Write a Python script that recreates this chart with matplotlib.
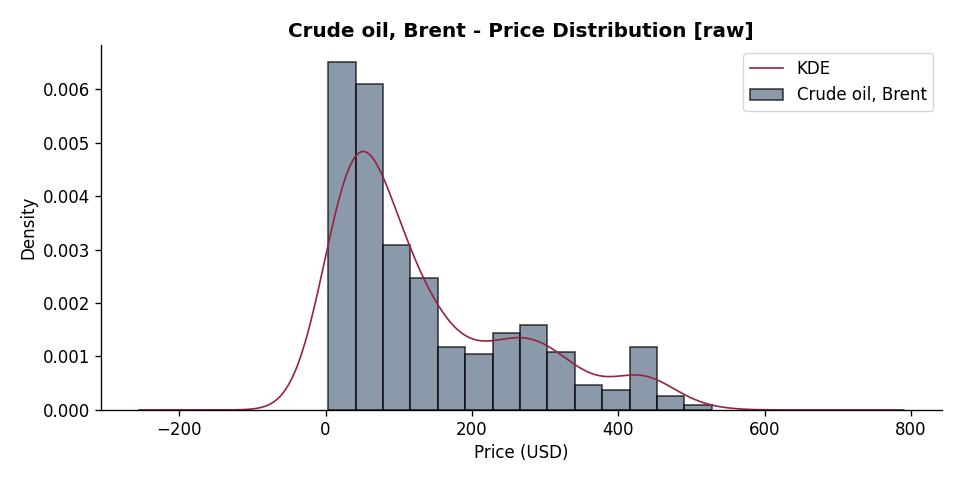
import matplotlib
matplotlib.use("Agg")
import matplotlib.pyplot as plt
import numpy as np

# histogram of Brent prices (density)
BIN_START = 3.7
BIN_WIDTH = 37.45
DENSITY = [0.00650, 0.00610, 0.00308, 0.00247, 0.00118, 0.00105, 0.00143,
           0.00159, 0.00108, 0.00047, 0.00037, 0.00118, 0.00026, 0.00009]
KDE_RANGE = [-255, 790]
KDE_BW = 39.0

TITLE = "Crude oil, Brent - Price Distribution [raw]"
SERIES = "Crude oil, Brent"

edges = BIN_START + BIN_WIDTH * np.arange(len(DENSITY) + 1)
centers = (edges[:-1] + edges[1:]) / 2
weights = np.array(DENSITY) * BIN_WIDTH
weights = weights / weights.sum()

# smooth curve from the binned values with a gaussian kernel
xs = np.linspace(KDE_RANGE[0], KDE_RANGE[1], 600)
kde = np.zeros_like(xs)
for c, w in zip(centers, weights):
    kde += w * np.exp(-0.5 * ((xs - c) / KDE_BW) ** 2) / (KDE_BW * np.sqrt(2 * np.pi))

plt.rcParams.update({
    "font.size": 12,
    "axes.linewidth": 0.96,
    "xtick.major.width": 0.96,
    "ytick.major.width": 0.96,
    "xtick.major.size": 4.2,
    "ytick.major.size": 4.2,
})

fig, ax = plt.subplots(figsize=(9.6, 4.8), dpi=100)

ax.bar(edges[:-1], DENSITY, width=BIN_WIDTH, align="edge",
       color="#586f86", edgecolor="black", linewidth=1.2, alpha=0.7,
       label=SERIES)
ax.plot(xs, kde, color="#962340", linewidth=1.2, label="KDE")

ax.set_title(TITLE, fontweight="bold", fontsize=14.4)
ax.set_xlabel("Price (USD)")
ax.set_ylabel("Density")
ax.spines["top"].set_visible(False)
ax.spines["right"].set_visible(False)
ax.legend(loc="upper right", fontsize=12)

fig.subplots_adjust(left=0.105, right=0.981, top=0.906, bottom=0.146)
fig.savefig("out.png", dpi=100)
